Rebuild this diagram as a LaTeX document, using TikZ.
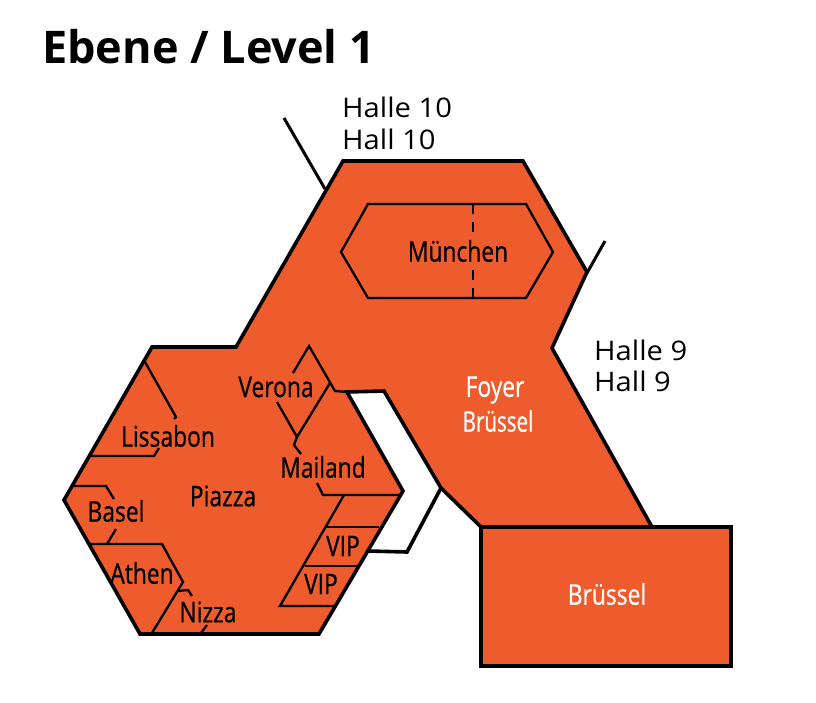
\documentclass[tikz,border=0pt]{standalone}
\usepackage{fontspec}
\setmainfont{Open Sans}
\newfontfamily\roomfont[FakeStretch=0.8,FakeBold=0.5]{Open Sans}
\newfontfamily\foyerfont[FakeStretch=0.72,FakeBold=0.5]{Open Sans}
\newfontfamily\hallfont[FakeStretch=1.08]{Open Sans}
\definecolor{hallorange}{RGB}{238,91,45}
\tikzset{
  x=1pt,
  y=-1pt,
  outer/.style={line width=3.6pt, line join=miter, draw=black},
  inner/.style={line width=2.3pt, draw=black},
  room/.style={font=\roomfont\fontsize{28.5}{30}\selectfont, inner sep=0pt},
  whiteroom/.style={room, text=white},
  foyerroom/.style={font=\foyerfont\fontsize{28.5}{30}\selectfont, inner sep=0pt, text=white},
  hall/.style={font=\hallfont\fontsize{27}{30}\selectfont, inner sep=0pt, anchor=west},
}

\begin{document}
\begin{tikzpicture}
      \useasboundingbox (0,0) rectangle (816,703);

      \draw[outer,fill=hallorange] (343,161) -- (523,161) -- (587,272) -- (552,348) -- (652,527)
            -- (481,527) -- (441,488) -- (384,391) -- (347,392) -- (403,491) -- (319,634)
            -- (140,634) -- (64,500) -- (152,347) -- (236,347) -- cycle;
      \draw[outer,fill=hallorange] (481,527) rectangle (731,666);
      \draw[outer] (441,488) -- (407,552) -- (368,551);
      \draw[inner,line width=3pt] (284,118) -- (325,189);
      \draw[inner,line width=3pt] (605,241) -- (587,273);

      \draw[inner] (368,204) -- (526,204) -- (553,252) -- (526,298) -- (368,298) -- (341,252) -- cycle;
      \draw[inner,dash pattern=on 10pt off 8pt] (473,204) -- (473,236);
      \draw[inner,dash pattern=on 10pt off 8pt] (473,298) -- (473,270);

      \draw[inner] (293,373) -- (309,346) -- (335,391) -- (347,392);
      \draw[inner] (277,402) -- (297,437) -- (330,383);
      \draw[inner] (297,437) -- (294,445) -- (301,454);
      \draw[inner] (317,483) -- (323,495) -- (402,495);
      \draw[inner] (344,495) -- (280,606) -- (334,606);
      \draw[inner] (327,527) -- (379,527);
      \draw[inner] (305,566) -- (357,566);
      \draw[inner] (145,362) -- (176,417) -- (174,419);
      \draw[inner] (90,456) -- (154,456) -- (159,448);
      \draw[inner] (73,486) -- (106,486) -- (114,499);
      \draw[inner] (116,529) -- (107,544);
      \draw[inner] (90,544) -- (162,544) -- (183,582) -- (152,633);
      \draw[inner] (178,591) -- (188,590) -- (192,596);
      \draw[inner] (207,625) -- (201,633);

      \node[font=\bfseries\fontsize{45}{48}\selectfont,inner sep=0pt,anchor=west] (title) at (42,47) {Ebene / Level 1};
      \node[hall] (halleten) at (342,107) {Halle 10};
      \node[hall] (hallten)  at (342,139) {Hall 10};
      \node[hall] (hallenine) at (594,350) {Halle 9};
      \node[hall] (hallnine)  at (594,381) {Hall 9};

      \node[room] (muenchen) at (458,251) {München};
      \node[room] (lissabon) at (168,436) {Lissabon};
      \node[room] (piazza)   at (223,496) {Piazza};
      \node[room] (basel)    at (116,511) {Basel};
      \node[room] (athen)    at (142,573) {Athen};
      \node[room] (nizza)    at (208,612) {Nizza};
      \node[room] (verona)   at (276,387) {Verona};
      \node[room] (mailand)  at (323,467) {Mailand};
      \node[room] (vipa)     at (343,546) {VIP};
      \node[room] (vipb)     at (321,584) {VIP};
      \node[whiteroom] (foyer)   at (495,390) {Foyer};
      \node[foyerroom] (bruesself) at (498,421) {Brüssel};
      \node[whiteroom] (bruessel) at (607,594) {Brüssel};
    \end{tikzpicture}
\end{document}
